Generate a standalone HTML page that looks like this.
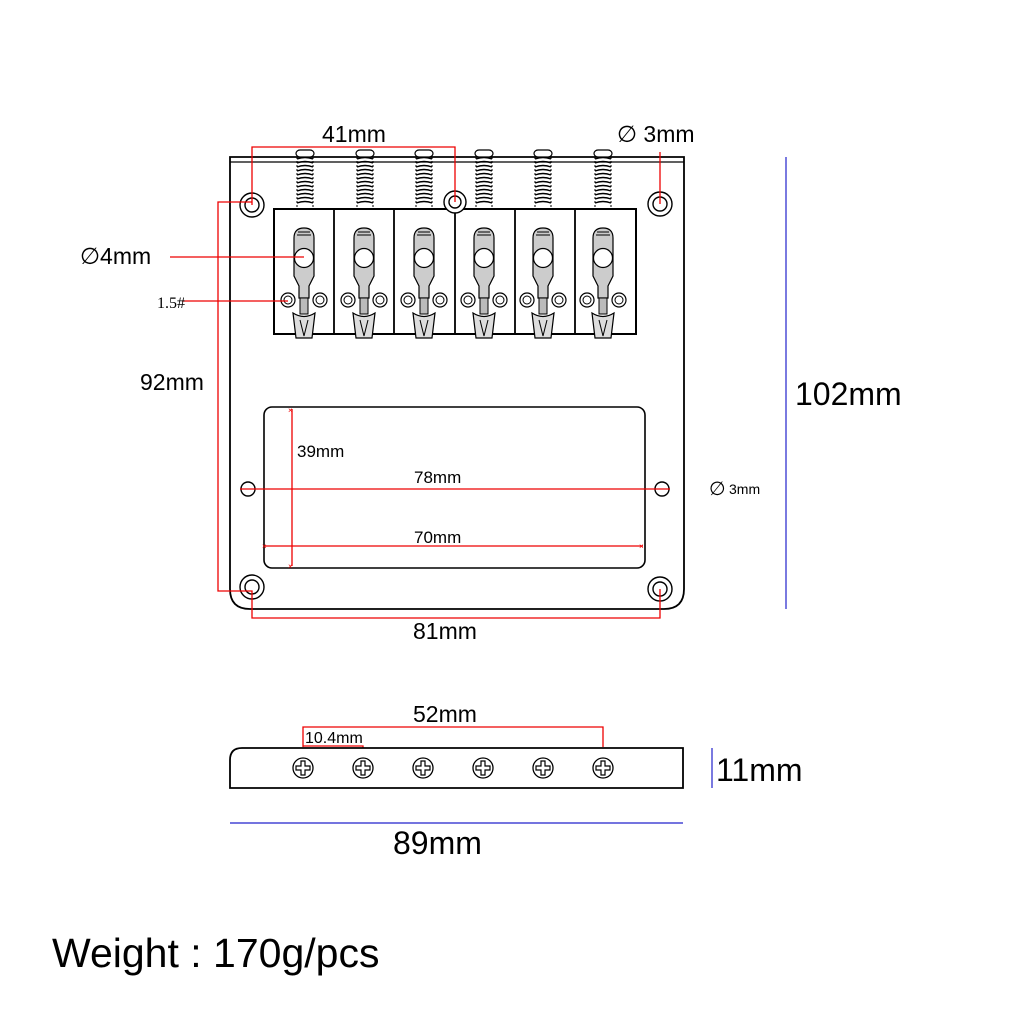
<!DOCTYPE html>
<html><head><style>html,body{margin:0;padding:0;background:#fff}svg{display:block}</style></head>
<body>
<svg width="1024" height="1024" viewBox="0 0 1024 1024" xmlns="http://www.w3.org/2000/svg" font-family="'Liberation Sans', 'DejaVu Sans', sans-serif">
<defs>
<g id="spring">
 <rect x="-9" y="-6" width="18" height="7" rx="4" fill="#fff" stroke="#000" stroke-width="1.2"/>
 <path d="M-8 3 Q0 0 8 3 M-8 7 Q0 4 8 7 M-8 11 Q0 8 8 11 M-8 15 Q0 12 8 15 M-8 19 Q0 16 8 19 M-8 23 Q0 20 8 23 M-8 27 Q0 24 8 27 M-8 31 Q0 28 8 31 M-8 35 Q0 32 8 35 M-8 39 Q0 36 8 39 M-8 43 Q0 40 8 43 M-8 47 Q0 44 8 47" fill="none" stroke="#000" stroke-width="1.4"/>
 <path d="M-8 1 V53 M8 1 V53" stroke="#000" stroke-width="1" stroke-dasharray="2 2"/>
</g>
<g id="saddle">
 <path d="M-10 -20 Q-10 -30 0 -30 Q10 -30 10 -20 V18 L5 28 V40 H-5 V28 L-10 18 Z" fill="#ccc" stroke="#000" stroke-width="1.2"/>
 <path d="M-6 -26 H6 M-7 -23 H7" stroke="#000" stroke-width="1"/>
 <circle cx="0" cy="0" r="9.5" fill="#fff" stroke="#000" stroke-width="1.2"/>
 <circle cx="-16" cy="42" r="7" fill="#fff" stroke="#000" stroke-width="1.2"/>
 <circle cx="-16" cy="42" r="4" fill="#fff" stroke="#000" stroke-width="1"/>
 <circle cx="16" cy="42" r="7" fill="#fff" stroke="#000" stroke-width="1.2"/>
 <circle cx="16" cy="42" r="4" fill="#fff" stroke="#000" stroke-width="1"/>
 <path d="M-11 55 L-8 80 H8 L11 55 Q0 62 -11 55 Z" fill="#ddd" stroke="#000" stroke-width="1.2"/>
 <path d="M-4 62 L0 78 L4 62" fill="none" stroke="#000" stroke-width="1"/>
 <rect x="-4" y="40" width="8" height="16" fill="#bbb" stroke="#000" stroke-width="1"/>
</g>
<g id="screw">
 <circle r="10" fill="#fff" stroke="#000" stroke-width="1.3"/>
 <path d="M-2 -7 H2 V-2 H7 V2 H2 V7 H-2 V2 H-7 V-2 H-2 Z" fill="#fff" stroke="#000" stroke-width="1.2"/>
</g>
</defs>

<path d="M230 157 H684 V589 Q684 609 664 609 H250 Q230 609 230 589 Z" fill="#fff" stroke="#000" stroke-width="1.8"/>
<line x1="230" y1="162" x2="684" y2="162" stroke="#000" stroke-width="1.2"/>

<use href="#spring" x="305" y="156"/>
<use href="#spring" x="365" y="156"/>
<use href="#spring" x="424" y="156"/>
<use href="#spring" x="484" y="156"/>
<use href="#spring" x="543" y="156"/>
<use href="#spring" x="603" y="156"/>

<rect x="274" y="209" width="362" height="125" fill="#fff" stroke="#000" stroke-width="2"/>
<path d="M334 209 V334 M394 209 V334 M455 209 V334 M515 209 V334 M575 209 V334" stroke="#000" stroke-width="1.8"/>
<use href="#saddle" x="304" y="258"/>
<use href="#saddle" x="364" y="258"/>
<use href="#saddle" x="424" y="258"/>
<use href="#saddle" x="484" y="258"/>
<use href="#saddle" x="543" y="258"/>
<use href="#saddle" x="603" y="258"/>

<g fill="#fff" stroke="#000" stroke-width="1.4">
<circle cx="252" cy="205" r="12"/><circle cx="252" cy="205" r="7"/>
<circle cx="660" cy="204" r="12"/><circle cx="660" cy="204" r="7"/>
<circle cx="455" cy="202" r="11"/><circle cx="455" cy="202" r="6"/>
<circle cx="252" cy="587" r="12"/><circle cx="252" cy="587" r="7"/>
<circle cx="660" cy="589" r="12"/><circle cx="660" cy="589" r="7"/>
<circle cx="248" cy="489" r="7"/>
<circle cx="662" cy="489" r="7"/>
</g>

<rect x="264" y="407" width="381" height="161" rx="8" fill="#fff" stroke="#000" stroke-width="1.6"/>

<g stroke="#e00" stroke-width="1.3" fill="none">
<path d="M252 205 V147 H455 V202"/>
<path d="M660 204 V152"/>
<path d="M170 257 H304"/>
<path d="M182 301 H288"/>
<path d="M252 202 H218 V591 H252 V618 H660 V589"/>
<path d="M292 409 V566"/>
<path d="M240 489 H670"/>
<path d="M265 546 H643"/>
<path d="M303 747 V727 H603 V747"/>
<path d="M303 746 H363 V750"/>
</g>
<g fill="#e00" font-size="8"><text x="288" y="413">×</text><text x="288" y="569">×</text><text x="262" y="549">×</text><text x="639" y="549">×</text></g>

<g stroke="#22c" stroke-width="1.2" fill="none">
<line x1="786" y1="157" x2="786" y2="609"/>
<line x1="712" y1="748" x2="712" y2="788"/>
<line x1="230" y1="823" x2="683" y2="823"/>
</g>

<path d="M230 788 V760 Q230 748 242 748 H683 V788 Z" fill="#fff" stroke="#000" stroke-width="1.8"/>
<use href="#screw" x="303" y="768"/>
<use href="#screw" x="363" y="768"/>
<use href="#screw" x="423" y="768"/>
<use href="#screw" x="483" y="768"/>
<use href="#screw" x="543" y="768"/>
<use href="#screw" x="603" y="768"/>

<g fill="#000">
<text x="322" y="142" font-size="23">41mm</text>
<text x="617" y="142" font-size="23">∅ 3mm</text>
<text x="80" y="264" font-size="23">∅4mm</text>
<text x="157" y="308" font-size="16" font-family="'Liberation Serif', serif">1.5#</text>
<text x="140" y="390" font-size="23">92mm</text>
<text x="795" y="405" font-size="32">102mm</text>
<text x="297" y="457" font-size="17">39mm</text>
<text x="414" y="483" font-size="17">78mm</text>
<text x="709" y="495" font-size="19">∅</text><text x="729" y="494" font-size="14">3mm</text>
<text x="414" y="543" font-size="17">70mm</text>
<text x="413" y="639" font-size="23">81mm</text>
<text x="413" y="722" font-size="23">52mm</text>
<text x="305" y="743" font-size="16">10.4mm</text>
<text x="716" y="781" font-size="32">11mm</text>
<text x="393" y="854" font-size="32">89mm</text>
<text x="52" y="967" font-size="41">Weight : 170g/pcs</text>
</g>
</svg>
</body></html>
